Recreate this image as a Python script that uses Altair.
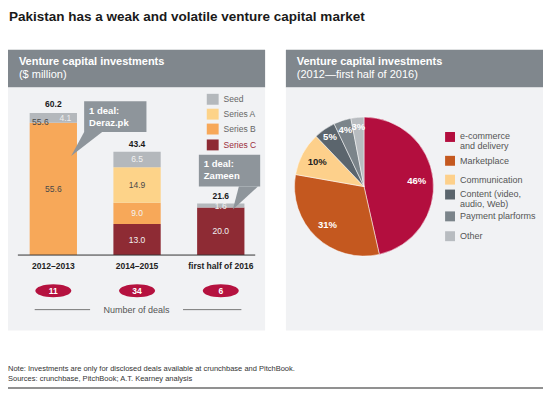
import altair as alt
import pandas as pd
import math

# ---------------- data ----------------
periods = ["2012–2013", "2014–2015", "first half of 2016"]
series = ["Series C", "Series B", "Series A", "Seed"]          # bottom -> top
seed = [4.1, 6.5, 1.6]
series_a = [0.0, 14.9, 0.0]
series_b = [55.6, 9.0, 0.0]
series_c = [0.0, 13.0, 20.0]
totals = [60.2, 43.4, 21.6]
deals = [11, 34, 6]

sectors = ["e-commerce\nand delivery", "Marketplace", "Communication",
           "Content (video,\naudio, Web)", "Payment plarforms", "Other"]
shares = [46, 31, 10, 5, 4, 3]

# ---------------- styles ----------------
FONT = "Liberation Sans"
series_colors = {"Seed": "#b4b8bc", "Series A": "#fdd389",
                 "Series B": "#f7a859", "Series C": "#8e2b34"}
pie_colors = ["#b30e3e", "#c4581f", "#fdd08b", "#5b656d", "#7b848a", "#b8bcc0"]
HEADER = "#80878d"
PANEL = "#f1f2f4"
CALLOUT = "#8e959b"
DEAL_RED = "#b5123f"

W, H = 535, 382


def X(px):
    return (px - 5) * W / 541


def Y(py):
    return (py - 8) * H / 385


one = pd.DataFrame({"a": [0]})


def rect(x1, y1, x2, y2, color):
    return alt.Chart(one).mark_rect(color=color).encode(
        x=alt.value(X(x1)), x2=alt.value(X(x2)),
        y=alt.value(Y(y1)), y2=alt.value(Y(y2)))


def rule(x1, x2, y, color, w=1.0):
    return alt.Chart(one).mark_rule(color=color, strokeWidth=w).encode(
        x=alt.value(X(x1)), x2=alt.value(X(x2)), y=alt.value(Y(y)))


def txt(s, x, y, size, color, weight="normal", align="left", baseline="middle"):
    return alt.Chart(one).mark_text(
        text=s, font=FONT, fontSize=size, fontWeight=weight, color=color,
        align=align, baseline=baseline, lineBreak="\n", lineHeight=10
    ).encode(x=alt.value(X(x)), y=alt.value(Y(y)))


def shape(path, x, y, color):
    return alt.Chart(one).mark_point(
        shape=path, size=4, filled=True, color=color, opacity=1, strokeWidth=0
    ).encode(x=alt.value(X(x)), y=alt.value(Y(y)))


# ---------------- bar data ----------------
vals = {"Seed": seed, "Series A": series_a, "Series B": series_b, "Series C": series_c}
rows = []
for i, p in enumerate(periods):
    base = 0.0
    for s in series:
        v = vals[s][i]
        if v > 0:
            rows.append({"period": p, "series": s, "v": v, "y0": base, "y1": base + v,
                         "mid": base + v / 2, "label": f"{v:.1f}"})
        base += v
bars_df = pd.DataFrame(rows)
dark = (bars_df["series"] == "Series A") | (
    (bars_df["series"] == "Series B") & (bars_df["period"] == periods[0]))
bars_df["lc"] = ["#4a4a4a" if d else "#f2f2f2" for d in dark]

tot_df = pd.DataFrame({"period": periods, "total": totals,
                       "tlabel": [f"{t:.1f}" for t in totals]})
deal_df = pd.DataFrame({"period": periods, "deals": deals})

xscale = alt.Scale(domain=periods, range=[X(8.5), X(262.5)],
                   paddingInner=0.435, paddingOuter=0.2175)
yscale = alt.Scale(domain=[0, 60], range=[Y(257), Y(113)], nice=False, zero=True)
xenc = alt.X("period:N", scale=xscale, axis=None)

bars = alt.Chart(bars_df).mark_bar().encode(
    x=xenc,
    y=alt.Y("y0:Q", scale=yscale, axis=None),
    y2="y1:Q",
    color=alt.Color("series:N", scale=alt.Scale(domain=list(series_colors),
                                                 range=list(series_colors.values())),
                    legend=None),
)

main_lab = bars_df[~((bars_df["series"] == "Seed") & (bars_df["period"] == periods[0]))]
bar_labels = alt.Chart(main_lab).mark_text(font=FONT, fontSize=8.5).encode(
    x=xenc, y=alt.Y("mid:Q", scale=yscale, axis=None), text="label:N",
    color=alt.Color("lc:N", scale=None))

first_seed = bars_df[(bars_df["series"] == "Seed") & (bars_df["period"] == periods[0])]
seed_label1 = alt.Chart(first_seed).mark_text(font=FONT, fontSize=8.5, dx=12,
                                               color="#eeeeee").encode(
    x=xenc, y=alt.Y("mid:Q", scale=yscale, axis=None), text="label:N")
first_b = bars_df[(bars_df["series"] == "Series B") & (bars_df["period"] == periods[0])]
stray_label = alt.Chart(first_b).mark_text(font=FONT, fontSize=8.5, dx=-13, dy=-1,
                                            color="#4a4a4a").encode(
    x=xenc, y=alt.Y("y1:Q", scale=yscale, axis=None), text="label:N")

total_labels = alt.Chart(tot_df).mark_text(font=FONT, fontSize=8.5, fontWeight="bold",
                                           color="#1a1a1a", dy=-8).encode(
    x=xenc, y=alt.Y("total:Q", scale=yscale, axis=None), text="tlabel:N")

cat_labels = alt.Chart(tot_df).mark_text(font=FONT, fontSize=8.5, fontWeight="bold",
                                         color="#222222").encode(
    x=xenc, y=alt.value(Y(268)), text="period:N")

ELLIPSE = "M-18,0A18,6.5,0,1,1,18,0A18,6.5,0,1,1,-18,0Z"
deal_ell = alt.Chart(deal_df).mark_point(shape=ELLIPSE, size=4, filled=True,
                                         color=DEAL_RED, opacity=1, strokeWidth=0).encode(
    x=xenc, y=alt.value(Y(293)))
deal_txt = alt.Chart(deal_df).mark_text(font=FONT, fontSize=8.5, fontWeight="bold",
                                        color="white").encode(
    x=xenc, y=alt.value(Y(293)), text="deals:N")

# ---------------- pie ----------------
pie_df = pd.DataFrame({"sector": sectors, "share": shares,
                       "plabel": [f"{s}%" for s in shares]})
pie_df["end"] = pie_df["share"].cumsum()
pie_df["start"] = pie_df["end"] - pie_df["share"]
pie_df["mid"] = (pie_df["start"] + pie_df["end"]) / 2
pie_df["tc"] = ["#222222" if s == "Communication" else "white" for s in sectors]
pie_total = float(sum(shares))
tscale = alt.Scale(domain=[0, pie_total], range=[0, 2 * math.pi], nice=False, zero=True)
CX, CY = X(365), Y(188)
pcolor = alt.Color("sector:N", scale=alt.Scale(domain=sectors, range=pie_colors),
                   legend=None)
pie = alt.Chart(pie_df).mark_arc(outerRadius=69.5, stroke="white", strokeWidth=0.5).encode(
    theta=alt.Theta("start:Q", scale=tscale, stack=None),
    theta2="end:Q",
    color=pcolor,
    x=alt.value(CX), y=alt.value(CY))


def pie_text(cond, r):
    return alt.Chart(pie_df).transform_filter(cond).mark_text(
        radius=r, font=FONT, fontSize=9.5, fontWeight="bold").encode(
        theta=alt.Theta("mid:Q", scale=tscale, stack=None),
        x=alt.value(CX), y=alt.value(CY), text="plabel:N",
        color=alt.Color("tc:N", scale=None))


pie_text_big = pie_text("datum.share >= 10", 53)
pie_text_small = pie_text("datum.share < 10", 60)

# ---------------- layout / decoration ----------------
layers = [
    rect(5, 50, 265, 88, HEADER),
    rect(5, 88, 265, 333, PANEL),
    rect(286, 50, 546, 88, HEADER),
    rect(286, 88, 546, 333, PANEL),
    txt("Pakistan has a weak and volatile venture capital market", 6, 10.5, 13.5,
        "#1a1a1a", weight="bold", baseline="top"),
    txt("Venture capital investments", 16, 62, 11, "white", weight="bold"),
    txt("($ million)", 16, 76, 11, "white"),
    txt("Venture capital investments", 297, 62, 11, "white", weight="bold"),
    txt("(2012—first half of 2016)", 297, 76, 11, "white"),
    bars,
    bar_labels, seed_label1, stray_label, total_labels,
    rule(15, 255, 257, "#333333", 1),
    cat_labels,
    deal_ell, deal_txt,
    rule(32, 88, 312, "#777777", 1),
    rule(182, 241, 312, "#777777", 1),
    txt("Number of deals", 135, 312, 9, "#555555", align="center"),
    # callouts
    rect(82, 102, 145, 133, CALLOUT),
    shape("M0,0L18,0L-13,24Z", 82, 133, CALLOUT),
    txt("1 deal:", 87, 112, 9.5, "white", weight="bold"),
    txt("Deraz.pk", 87, 124, 9.5, "white", weight="bold"),
    rect(198, 156, 260, 188, CALLOUT),
    shape("M40,0L59,0L34,23Z", 198, 188, CALLOUT),
    txt("1 deal:", 203, 165, 9.5, "white", weight="bold"),
    txt("Zameen", 203, 177, 9.5, "white", weight="bold"),
    pie, pie_text_big, pie_text_small,
]

# bar legend (top -> bottom)
bar_leg_order = ["Seed", "Series A", "Series B", "Series C"]
bar_leg_y = [100, 115, 130, 146]
for s, yy in zip(bar_leg_order, bar_leg_y):
    layers.append(rect(206, yy - 5.5, 218, yy + 5.5, series_colors[s]))
    layers.append(txt(s, 223, yy, 8.5, "#9b2c3a" if s == "Series C" else "#666666"))

# pie legend
pie_leg_y = [138, 162, 181, 196, 218, 238]
for s, c, yy in zip(sectors, pie_colors, pie_leg_y):
    layers.append(rect(447, yy - 5, 457, yy + 5, c))
    layers.append(txt(s, 462, yy, 9, "#555555", baseline="middle") if "\n" not in s
                  else txt(s, 462, yy - 5, 9, "#555555", baseline="top"))

# footnote
layers += [
    txt("Note: Investments are only for disclosed deals available at crunchbase and PitchBook.",
        5, 372, 7.5, "#333333"),
    txt("Sources: crunchbase, PitchBook; A.T. Kearney analysis", 5, 382, 7.5, "#333333"),
    rule(5, 546, 391, "#6d6d6d", 1.5),
]

chart = alt.layer(*layers).properties(
    width=W, height=H, autosize=alt.AutoSizeParams(type="none"), padding=0,
    background="white",
).resolve_scale(
    x="independent", y="independent", color="independent", theta="independent"
).configure_view(stroke=None)

chart.save("out.html", embed_options={"renderer": "svg", "actions": False})
